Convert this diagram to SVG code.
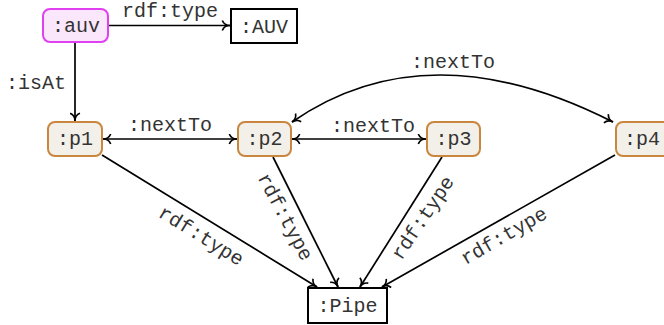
<svg xmlns="http://www.w3.org/2000/svg" width="664" height="325" viewBox="0 0 664 325">
<style>
text{font-family:"Liberation Mono","Courier New",monospace;font-size:20px;fill:#333;}
.lbl{text-anchor:middle;}
.p rect{fill:#f3efe9;stroke:#c8863f;stroke-width:2;}
.cls rect{fill:#fff;stroke:#000;stroke-width:2;}
.e{fill:none;stroke:#000;stroke-width:1.7;}
</style>
<defs>
<marker id="ah" viewBox="0 0 10 10" refX="9" refY="5" markerWidth="11" markerHeight="11" markerUnits="userSpaceOnUse" orient="auto-start-reverse">
<path d="M2,0.5 C3,3 6,5 9,5 C6,5 3,7 2,9.5" fill="none" stroke="#000" stroke-width="1.5"/>
</marker>
</defs>
<g id="connectors">
<path class="e" d="M108,25.5 L230,25.5" marker-end="url(#ah)"/>
<text class="lbl" x="170" y="16.5">rdf:type</text>
<path class="e" d="M75,43 L75,121" marker-end="url(#ah)"/>
<text class="lbl" x="36" y="89">:isAt</text>
<path class="e" d="M103,139 L237,139" marker-start="url(#ah)" marker-end="url(#ah)"/>
<text class="lbl" x="170" y="131">:nextTo</text>
<path class="e" d="M292,139 L426,139" marker-start="url(#ah)" marker-end="url(#ah)"/>
<text class="lbl" x="373" y="132">:nextTo</text>
<path class="e" d="M292,122 Q428,28 613,122" marker-start="url(#ah)" marker-end="url(#ah)"/>
<text class="lbl" x="453" y="68">:nextTo</text>
<path class="e" d="M102,155 L317,287" marker-end="url(#ah)"/>
<text class="lbl" transform="translate(201,236) rotate(31.5)" y="6">rdf:type</text>
<path class="e" d="M273,157 L338,287" marker-end="url(#ah)"/>
<text class="lbl" transform="translate(285,217) rotate(62)" y="6">rdf:type</text>
<path class="e" d="M442,157 L360,287" marker-end="url(#ah)"/>
<text class="lbl" transform="translate(423,218) rotate(-56)" y="6">rdf:type</text>
<path class="e" d="M615,155 L382,287" marker-end="url(#ah)"/>
<text class="lbl" transform="translate(504,236) rotate(-30)" y="6">rdf:type</text>
</g>
<g id="auv">
<rect x="43" y="9" width="65" height="33" rx="7" fill="#fbe7fb" stroke="#e040f0" stroke-width="2"/>
<text class="lbl" x="76" y="32">:auv</text>
</g>
<g id="AUV" class="cls">
<rect x="231" y="9" width="66" height="34"/>
<text class="lbl" x="264" y="33">:AUV</text>
</g>
<g id="p1" class="p">
<rect x="48" y="122" width="54" height="34" rx="7"/>
<text class="lbl" x="75" y="145">:p1</text>
</g>
<g id="p2" class="p">
<rect x="238" y="122" width="53" height="34" rx="7"/>
<text class="lbl" x="264.5" y="145">:p2</text>
</g>
<g id="p3" class="p">
<rect x="427" y="122" width="53" height="34" rx="7"/>
<text class="lbl" x="453.5" y="145">:p3</text>
</g>
<g id="p4" class="p">
<rect x="616" y="122" width="54" height="34" rx="7"/>
<text class="lbl" x="642" y="145">:p4</text>
</g>
<g id="Pipe" class="cls">
<rect x="308" y="288" width="79" height="35"/>
<text class="lbl" x="347.5" y="312">:Pipe</text>
</g>
</svg>
